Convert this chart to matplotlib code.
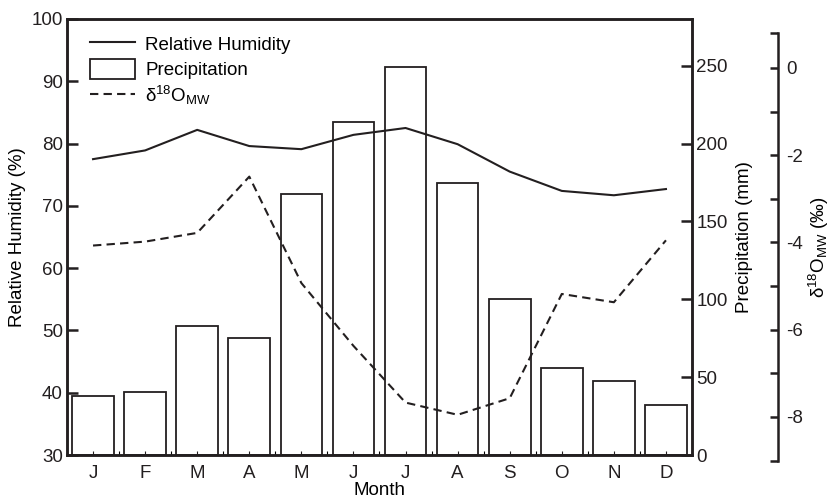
import matplotlib
matplotlib.use("Agg")
import matplotlib.pyplot as plt
from matplotlib.lines import Line2D
from matplotlib.patches import Patch
from matplotlib.ticker import FixedLocator

plt.rcParams['font.family'] = ['Liberation Sans', 'DejaVu Sans']
plt.rcParams['mathtext.fontset'] = 'custom'
plt.rcParams['mathtext.rm'] = 'Liberation Sans'
plt.rcParams['mathtext.it'] = 'Liberation Sans:italic'
plt.rcParams['axes.unicode_minus'] = False

months = ['J', 'F', 'M', 'A', 'M', 'J', 'J', 'A', 'S', 'O', 'N', 'D']
month_idx = list(range(1, 13))
rel_humidity = [77.5, 78.9, 82.2, 79.6, 79.1, 81.4, 82.5, 79.9, 75.5, 72.4, 71.7, 72.7]
precipitation = [37.8, 40.4, 82.9, 75.0, 167.8, 213.7, 248.9, 174.6, 100.4, 55.6, 47.6, 31.9]
delta18O = [-4.07, -3.98, -3.78, -2.49, -4.93, -6.37, -7.67, -7.95, -7.57, -5.18, -5.37, -3.95]

ink = '#231f20'
fs = 13.5

W, H = 832, 500
fig = plt.figure(figsize=(W / 100, H / 100), dpi=100)
left, right, bottom, top = 67, 692, 455, 19
ax = fig.add_axes([left / W, (H - bottom) / H, (right - left) / W, (bottom - top) / H])
ax2 = ax.twinx()

# precipitation bars
ax2.bar(month_idx, precipitation, width=0.8, facecolor='none', edgecolor=ink, linewidth=1.3, zorder=1)
ax2.set_ylim(0, 280)
ax2.set_yticks([0, 50, 100, 150, 200, 250])
ax2.set_ylabel('Precipitation (mm)', fontsize=fs, labelpad=6)

# relative humidity
ax.plot(month_idx, rel_humidity, color=ink, linewidth=1.5, zorder=3)
ax.set_ylim(30, 100)
ax.set_yticks(range(30, 101, 10))
ax.set_xlim(0.5, 12.5)
ax.set_xticks(month_idx)
ax.set_xticklabels(months)
ax.xaxis.set_minor_locator(FixedLocator([i + 0.5 for i in range(0, 13)]))
ax.set_ylabel('Relative Humidity (%)', fontsize=fs, labelpad=4)
ax.set_xlabel('Month', fontsize=fs, labelpad=0)

for a in (ax, ax2):
    for s in a.spines.values():
        s.set_linewidth(1.8)
        s.set_color(ink)
ax.tick_params(axis='y', direction='in', length=8, width=1.8, labelsize=fs, pad=3, colors=ink)
ax.tick_params(axis='x', which='major', direction='in', length=3, width=0.8, labelsize=fs, pad=7, colors=ink)
ax.tick_params(axis='x', which='minor', direction='in', length=3, width=0.8)
ax2.tick_params(axis='y', direction='in', length=8, width=1.8, labelsize=fs, pad=3, colors=ink)

# delta 18O axis (separate offset axes)
y0_px, y1_px = 460.6, 33.1
ax3 = fig.add_axes([left / W, (H - y0_px) / H, (right - left) / W, (y0_px - y1_px) / H])
ax3.patch.set_visible(False)
ax3.plot(month_idx, delta18O, color=ink, linewidth=1.5, linestyle=(0, (4, 2.5)), zorder=3)
ax3.set_xlim(0.5, 12.5)
ax3.set_ylim(-9, 0.8)
ax3.xaxis.set_visible(False)
ax3.yaxis.tick_right()
ax3.yaxis.set_label_position('right')
for k in ('left', 'top', 'bottom'):
    ax3.spines[k].set_visible(False)
ax3.spines['right'].set_position(('axes', 1 + 86 / (right - left)))
ax3.spines['right'].set_linewidth(1.8)
ax3.spines['right'].set_color(ink)
ax3.set_yticks([0, -2, -4, -6, -8])
ax3.yaxis.set_minor_locator(FixedLocator([-9, -7, -5, -3, -1, 0.8]))
ax3.tick_params(axis='y', which='both', direction='in', length=6, width=1.8, labelsize=fs, pad=6, colors=ink)
ax3.set_ylabel(r'δ$^{\mathrm{18}}$O$_{\mathrm{MW}}$ (‰)', fontsize=fs, labelpad=3)

handles = [
    Line2D([], [], color=ink, linewidth=1.5),
    Patch(facecolor='white', edgecolor=ink, linewidth=1.3),
    Line2D([], [], color=ink, linewidth=1.5, linestyle=(0, (4, 2.5))),
]
labels = ['Relative Humidity', 'Precipitation', r'δ$^{\mathrm{18}}$O$_{\mathrm{MW}}$']
fig.legend(handles, labels, loc='upper left', bbox_to_anchor=(90 / W, 1 - 34 / H), frameon=False,
           fontsize=fs, handlelength=2.4, handleheight=1.25, handletextpad=0.55,
           labelspacing=0.25, borderaxespad=0.0, borderpad=0.0)

fig.savefig('out.png', dpi=100)
